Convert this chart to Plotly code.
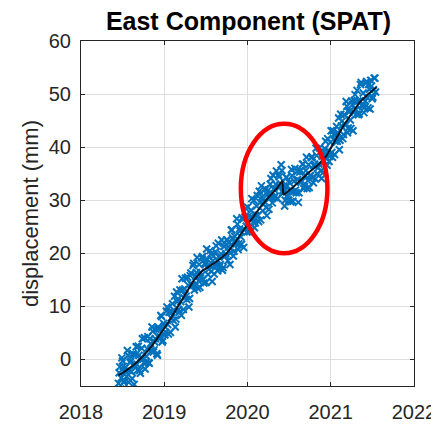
import numpy as np
import plotly.graph_objects as go

# ---- data ----
title_text = "East Component (SPAT)"
y_label = "displacement (mm)"
x_ticks = [2018, 2019, 2020, 2021, 2022]
y_ticks = [0, 10, 20, 30, 40, 50, 60]

# observation epochs: regular 3-day sampling starting mid-2018,
# stored as two interleaved runs (even epochs / odd epochs)
obs_start = 2018.45
obs_step_days = 6

# observed east displacement (mm), even epochs
obs_east_a = [
    -4.5, -1.4, -3.5, -0.3, -4.3, -1.5, -3.2, 0.8, -2.1, -0.3,
    -3.6, 0.9, -1.1, 2.4, -2.0, 0.8, -2.6, 2.1, 0.1, 4.1,
    -0.6, 2.0, -0.6, 3.9, 1.6, 5.3, 1.8, 3.9, 1.1, 6.1,
    4.0, 8.3, 3.3, 6.8, 4.6, 9.1, 6.6, 8.9, 5.1, 8.9,
    7.4, 11.9, 7.6, 10.9, 9.4, 13.1, 8.3, 13.1, 11.6, 15.3,
    11.3, 14.0, 11.5, 16.3, 14.0, 18.1, 13.9, 16.4, 13.4, 17.9,
    16.4, 19.1, 15.1, 18.1, 14.5, 18.9, 17.0, 20.5, 16.6, 18.6,
    16.1, 20.3, 17.8, 21.9, 17.5, 19.9, 16.8, 21.3, 19.5, 22.5,
    18.6, 22.0, 20.1, 24.4, 19.5, 23.2, 21.8, 25.5, 21.8, 24.2,
    21.7, 26.4, 24.4, 28.5, 24.0, 27.0, 24.1, 28.1, 26.6, 30.0,
    25.7, 28.9, 27.2, 31.7, 26.3, 30.6, 29.3, 32.1, 28.6, 31.1,
    28.3, 33.0, 30.6, 34.7, 30.5, 33.0, 30.3, 34.8, 32.5, 36.7,
    31.8, 32.7, 30.0, 34.3, 31.0, 33.3, 29.7, 34.6, 31.6, 36.0,
    31.4, 33.9, 31.4, 35.6, 33.7, 36.8, 32.6, 35.6, 32.2, 36.7,
    34.6, 38.0, 34.3, 36.5, 34.0, 38.4, 36.1, 39.9, 35.5, 38.3,
    35.3, 39.7, 38.0, 41.6, 37.3, 40.9, 39.0, 43.1, 38.6, 42.4,
    41.1, 45.5, 41.3, 44.0, 41.6, 46.1, 44.1, 47.7, 43.6, 46.8,
    43.5, 48.0, 46.5, 49.9, 46.2, 48.7, 46.3, 51.8, 47.9, 50.2,
    47.5, 52.1, 49.3, 51.8, 47.2, 51.5, 49.4, 53.0, 50.4,
]
# observed east displacement (mm), odd epochs
obs_east_b = [
    -2.5, -5.6, 0.3, -1.3, -4.0, -2.3, 1.7, -4.3, -0.6, -2.3,
    1.1, -4.7, 0.9, -0.9, 2.5, -2.1, 0.4, 3.9, -0.6, -1.8,
    0.6, 4.3, -0.7, 3.0, 6.1, 1.4, 3.3, 5.7, 0.8, 5.7,
    4.3, 8.1, 3.6, 6.3, 5.1, 9.9, 4.8, 9.0, 7.8, 10.5,
    9.3, 6.1, 12.7, 11.4, 8.9, 10.9, 15.2, 9.4, 13.3, 11.9,
    15.5, 9.9, 15.8, 14.1, 17.7, 13.1, 15.7, 19.2, 14.8, 13.6,
    15.8, 19.4, 14.4, 17.9, 20.8, 16.0, 17.7, 19.9, 14.7, 19.5,
    17.9, 21.4, 16.7, 19.3, 17.9, 22.5, 17.3, 21.3, 19.9, 22.5,
    21.2, 17.9, 24.4, 22.9, 20.4, 22.4, 26.5, 20.7, 24.6, 23.1,
    26.7, 21.1, 26.8, 25.1, 28.7, 24.1, 26.8, 30.3, 25.9, 24.8,
    27.1, 30.9, 26.0, 29.6, 32.7, 28.0, 29.8, 32.1, 27.1, 31.9,
    30.4, 34.1, 29.5, 32.1, 30.8, 35.5, 30.3, 34.4, 33.0, 35.6,
    31.4, 28.9, 34.3, 32.7, 30.0, 31.8, 35.8, 29.8, 33.6, 31.9,
    35.4, 29.6, 35.3, 33.4, 36.8, 32.2, 34.7, 38.1, 33.7, 32.4,
    34.6, 38.2, 33.3, 36.8, 39.8, 35.0, 36.8, 39.1, 34.1, 38.9,
    37.4, 41.1, 36.6, 39.4, 38.3, 43.1, 38.1, 42.4, 41.1, 43.9,
    42.7, 39.5, 46.2, 44.9, 42.4, 44.4, 48.6, 42.7, 46.6, 45.1,
    48.7, 43.1, 48.8, 47.1, 50.7, 46.1, 48.7, 52.2, 47.7, 46.5,
    48.7, 52.4, 47.4, 50.9, 52.6, 49.1, 50.8, 53.0,
]

# fitted trajectory (knots)
fit_t = [2018.45, 2018.55, 2018.65, 2018.75, 2018.85, 2018.95, 2019.05, 2019.15,
         2019.25, 2019.35, 2019.45, 2019.55, 2019.65, 2019.75, 2019.85, 2019.95,
         2020.05, 2020.15, 2020.25, 2020.35, 2020.42, 2020.43, 2020.55, 2020.65,
         2020.75, 2020.85, 2020.95, 2021.05, 2021.15, 2021.25, 2021.35, 2021.45,
         2021.55]
fit_y = [-3.0, -2.0, -0.8, 0.7, 2.5, 4.7, 7.0, 9.6,
         12.2, 14.8, 16.6, 17.7, 18.7, 20.0, 22.0, 24.3,
         26.5, 28.6, 30.5, 32.2, 33.7, 31.0, 32.5, 34.0,
         35.4, 36.7, 38.4, 41.2, 44.0, 46.3, 48.5, 50.0,
         51.3]

# highlighted offset (red ellipse) centre and half-sizes in data units
ell_cx, ell_cy = 2020.44, 32.2
ell_rx, ell_ry = 0.52, 12.2

t_a = [obs_start + i * obs_step_days / 365.25 for i in range(len(obs_east_a))]
t_b = [obs_start + (i + 0.5) * obs_step_days / 365.25 for i in range(len(obs_east_b))]

FONT = "Liberation Sans, Arial, sans-serif"
GRID = "#dedede"
AXC = "#262626"
BLUE = "#0072BD"

# page body has an 8px margin, so the figure is sized to fill the rest
FIG_W, FIG_H = 431, 417

fig = go.Figure()
for tt, yy in ((t_a, obs_east_a), (t_b, obs_east_b)):
    fig.add_trace(go.Scatter(
        x=tt, y=yy, mode="markers",
        marker=dict(symbol="x-thin", size=7, color=BLUE,
                    line=dict(width=2.0, color=BLUE)),
        showlegend=False, hoverinfo="skip"))
fig.add_trace(go.Scatter(
    x=fit_t, y=fit_y, mode="lines",
    line=dict(color="#0b1626", width=2.0),
    showlegend=False, hoverinfo="skip"))

fig.add_shape(type="circle", xref="x", yref="y",
              x0=ell_cx - ell_rx, x1=ell_cx + ell_rx,
              y0=ell_cy - ell_ry, y1=ell_cy + ell_ry,
              line=dict(color="#ff0000", width=4.5))

fig.update_layout(
    width=FIG_W, height=FIG_H,
    margin=dict(l=73, r=25, t=33, b=39, autoexpand=False),
    paper_bgcolor="white", plot_bgcolor="white",
    font=dict(family=FONT, color=AXC, size=20),
    title=dict(text="<b>" + title_text + "</b>", x=0.558, xanchor="center",
               y=0.969, yanchor="middle", yref="container",
               font=dict(size=25, color="#000000", family=FONT)),
)
fig.update_xaxes(
    range=[2018, 2022], tickvals=x_ticks, ticktext=[str(v) for v in x_ticks],
    showgrid=True, gridcolor=GRID, gridwidth=1,
    showline=True, linecolor=AXC, linewidth=1, mirror="ticks",
    ticks="inside", ticklen=4, tickcolor=AXC, automargin=False,
    ticklabelstandoff=8, zeroline=False,
    tickfont=dict(size=20, color="#262626"))
fig.update_yaxes(
    range=[-5, 60], tickvals=y_ticks, ticktext=[str(v) for v in y_ticks],
    showgrid=True, gridcolor=GRID, gridwidth=1,
    showline=True, linecolor=AXC, linewidth=1, mirror="ticks",
    ticks="inside", ticklen=4, tickcolor=AXC, automargin=False,
    ticklabelstandoff=5, zeroline=False,
    tickfont=dict(size=20, color="#262626"),
    title=dict(text=y_label, standoff=4, font=dict(size=22, color="#262626")))

fig.write_html("out.html")
